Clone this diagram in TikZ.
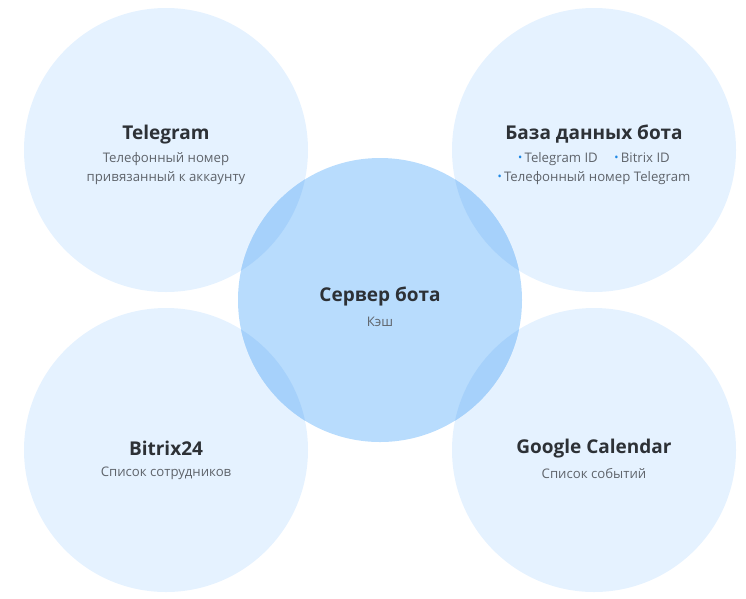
\documentclass[tikz,border=0pt]{standalone}
\usepackage{fontspec}
\setmainfont{Open Sans}
\usetikzlibrary{positioning}
\definecolor{botlight}{RGB}{229, 242, 255}
\definecolor{botmid}{RGB}{184, 220, 253}
\definecolor{botdeep}{RGB}{166, 209, 251}
\definecolor{botdot}{RGB}{30, 136, 229}
\definecolor{bottitle}{RGB}{45, 49, 54}
\definecolor{botsub}{RGB}{95, 100, 107}
\newcommand{\bdot}{{\color{botdot}\raisebox{0.1ex}{\scalebox{0.85}{\textbullet}}}\,}

\begin{document}
\begin{tikzpicture}[x=1pt, y=-1pt,
    outer/.style={circle, fill=botlight, minimum size=284pt, inner sep=0pt},
    hub/.style={circle, fill=botmid, minimum size=284pt, inner sep=0pt},
    title/.style={font=\fontsize{19}{23}\selectfont\bfseries, text=bottitle, inner sep=0pt},
    sub/.style={font=\fontsize{13.2}{19}\selectfont, text=botsub, align=center, inner sep=0pt}]
    \useasboundingbox (0,0) rectangle (746,598);
    % Circles
    \node[outer] (tg) at (166,150) {};
    \node[outer] (db) at (594,150) {};
    \node[outer] (bx) at (166,450) {};
    \node[outer] (gc) at (594,450) {};
    \node[hub] (srv) at (380,300) {};
    % Overlaps
    \begin{scope}
      \clip (srv.center) circle (142);
      \foreach \c in {tg, db, bx, gc}{
        \fill[botdeep] (\c.center) circle (142);
      }
    \end{scope}
    % Labels
    \node[title] (tgT) at (166,134.5) {Telegram};
    \node[sub] (tgS) at (166,168.5) {Телефонный номер\\привязанный к аккаунту};
    \node[title] (dbT) at (594,134.5) {База данных бота};
    \node[sub] (dbS) at (594,168.5) {\bdot Telegram ID \quad\bdot Bitrix ID\\\bdot Телефонный номер Telegram};
    \node[title] (srvT) at (380,296.5) {Сервер бота};
    \node[sub] (srvS) at (380,322) {Кэш};
    \node[title] (bxT) at (166,448.5) {Bitrix24};
    \node[sub] (bxS) at (166,473) {Список сотрудников};
    \node[title] (gcT) at (594,448.5) {Google Calendar};
    \node[sub] (gcS) at (594,473) {Список событий};
\end{tikzpicture}
\end{document}
